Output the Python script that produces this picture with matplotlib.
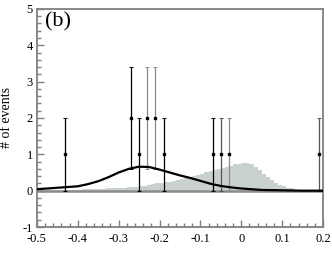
import numpy as np
from matplotlib import pyplot as plt
from matplotlib.ticker import MultipleLocator

# event data (x, count, error)
ev_x = [-0.43, -0.27, -0.25, -0.23, -0.21, -0.19, -0.07, -0.05, -0.03, 0.19]
ev_n = [1, 2, 1, 2, 2, 1, 1, 1, 1, 1]
ev_err = [1.0, 1.41, 1.0, 1.41, 1.41, 1.0, 1.0, 1.0, 1.0, 1.0]
ev_col = ['black', 'black', 'black', '#8a8a8a', '#8a8a8a', 'black',
          'black', '#555555', '#8a8a8a', '#555555']

# gray histogram, bins of 0.01 starting at -0.5
hist_edges_start = -0.5
hist_vals = [0.01, 0.01, 0.01, 0.01, 0.02, 0.02, 0.02, 0.02, 0.03, 0.03,
             0.03, 0.04, 0.04, 0.04, 0.05, 0.05, 0.05, 0.06, 0.06, 0.07,
             0.07, 0.08, 0.09, 0.10, 0.11, 0.13, 0.14, 0.16, 0.18, 0.20,
             0.21, 0.23, 0.25, 0.26, 0.29, 0.31, 0.34, 0.37, 0.40, 0.43,
             0.47, 0.50, 0.53, 0.56, 0.59, 0.62, 0.64, 0.68, 0.72, 0.74,
             0.75, 0.75, 0.74, 0.66, 0.57, 0.47, 0.38, 0.30, 0.22, 0.16,
             0.12, 0.08, 0.06, 0.03, 0.02, 0.01, 0.0, 0.0, 0.0, 0.0]

# black fit curve
fit_x = [-0.5, -0.475, -0.45, -0.425, -0.4, -0.375, -0.35, -0.325, -0.3, -0.275,
         -0.25, -0.225, -0.2, -0.175, -0.15, -0.125, -0.1, -0.075, -0.05, -0.025,
         0.0, 0.025, 0.05, 0.1, 0.15, 0.2]
fit_y = [0.04, 0.06, 0.08, 0.10, 0.12, 0.18, 0.26, 0.37, 0.50, 0.60,
         0.66, 0.65, 0.58, 0.50, 0.42, 0.35, 0.27, 0.19, 0.13, 0.09,
         0.06, 0.04, 0.02, 0.01, 0.0, 0.0]

plt.rcParams['font.family'] = ['Liberation Serif', 'DejaVu Serif']

fig = plt.figure(figsize=(3.32, 2.69), dpi=100)
ax = fig.add_axes([0.111, 0.156, 0.862, 0.811])

edges = hist_edges_start + 0.01 * np.arange(len(hist_vals) + 1)
ax.stairs(hist_vals, edges, fill=True, color='#c9d1ce', zorder=1)
ax.axhline(0, color='#8c8c8c', lw=1.8, zorder=2)
ax.plot(fit_x, fit_y, color='black', lw=1.6, zorder=4)

for x, n, e, c in zip(ev_x, ev_n, ev_err, ev_col):
    ax.errorbar([x], [n], yerr=[e], fmt='s', color=c, ecolor=c, ms=1.8,
                mfc='black', mec='black', elinewidth=0.9, capsize=1.2,
                capthick=0.7, zorder=3)

ax.set_xlim(-0.5, 0.2)
ax.set_ylim(-1, 5)
ax.xaxis.set_minor_locator(MultipleLocator(0.02))
ax.yaxis.set_minor_locator(MultipleLocator(0.2))
ax.set_xticks([-0.5, -0.4, -0.3, -0.2, -0.1, 0, 0.1, 0.2])
ax.set_xticklabels(['-0.5', '-0.4', '-0.3', '-0.2', '-0.1', '0', '0.1', '0.2'])
ax.set_yticks([-1, 0, 1, 2, 3, 4, 5])
ax.set_yticklabels(['-1', '0', '1', '2', '3', '4', '5'])
ax.tick_params(which='both', direction='in', top=False, right=False,
               color='#808080', labelsize=9)
ax.tick_params(axis='x', pad=4)
ax.tick_params(axis='y', pad=3)
ax.tick_params(which='major', length=5, width=1)
ax.tick_params(which='minor', length=3, width=1)
for s in ax.spines.values():
    s.set_color('#808080')
    s.set_linewidth(1.3)

ax.set_ylabel('# of events', fontsize=10, labelpad=7)
ax.text(0.03, 0.985, '(b)', transform=ax.transAxes, fontsize=16,
        va='top', ha='left')

fig.savefig('out.png', dpi=100)
